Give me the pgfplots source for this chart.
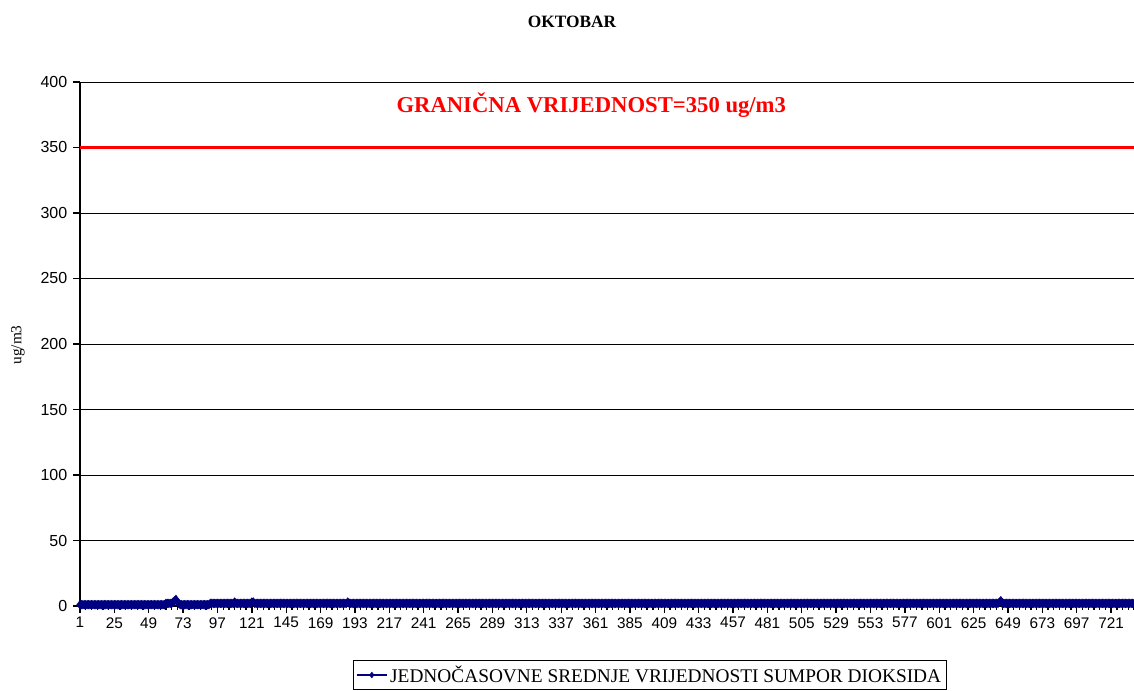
\documentclass[border=0pt]{standalone}
\usepackage{pgfplots}
\pgfplotsset{compat=1.18}
\usepackage{pgfplotstable}
\usepackage{fontspec}
\setmainfont{Liberation Serif}
\newfontfamily\tickfont{Liberation Sans}
\definecolor{navyblue}{RGB}{0,0,128}
\definecolor{limitred}{RGB}{255,0,0}

% hourly SO2 values, October: one line per day, 24 hourly values
\pgfplotstableread[row sep=\\]{
y\\
1\\1\\1\\1\\1\\1\\1\\1\\1\\1\\1\\1\\1\\1\\1\\1\\1\\1\\1\\1\\1\\1\\1\\1\\
1\\1\\1\\1\\1\\1\\1\\1\\1\\1\\1\\1\\1\\1\\1\\1\\1\\1\\1\\1\\1\\1\\1\\1\\
1\\1\\1\\1\\1\\1\\1\\1\\1\\1\\1\\1\\2\\2\\2\\2\\2\\3\\4\\5\\3\\2\\1\\1\\
1\\1\\1\\1\\1\\1\\1\\1\\1\\1\\1\\1\\1\\1\\1\\1\\1\\1\\1\\2\\2\\2\\2\\2\\
2\\2\\2\\2\\2\\2\\2\\2\\2\\2\\2\\2\\3\\2\\2\\2\\2\\2\\2\\2\\2\\2\\2\\2\\
3\\3\\2\\2\\2\\2\\2\\2\\2\\2\\2\\2\\2\\2\\2\\2\\2\\2\\2\\2\\2\\2\\2\\2\\
2\\2\\2\\2\\2\\2\\2\\2\\2\\2\\2\\2\\2\\2\\2\\2\\2\\2\\2\\2\\2\\2\\2\\2\\
2\\2\\2\\2\\2\\2\\2\\2\\2\\2\\2\\2\\2\\2\\2\\2\\2\\2\\2\\3\\2\\2\\2\\2\\
2\\2\\2\\2\\2\\2\\2\\2\\2\\2\\2\\2\\2\\2\\2\\2\\2\\2\\2\\2\\2\\2\\2\\2\\
2\\2\\2\\2\\2\\2\\2\\2\\2\\2\\2\\2\\2\\2\\2\\2\\2\\2\\2\\2\\2\\2\\2\\2\\
2\\2\\2\\2\\2\\2\\2\\2\\2\\2\\2\\2\\2\\2\\2\\2\\2\\2\\2\\2\\2\\2\\2\\2\\
2\\2\\2\\2\\2\\2\\2\\2\\2\\2\\2\\2\\2\\2\\2\\2\\2\\2\\2\\2\\2\\2\\2\\2\\
2\\2\\2\\2\\2\\2\\2\\2\\2\\2\\2\\2\\2\\2\\2\\2\\2\\2\\2\\2\\2\\2\\2\\2\\
2\\2\\2\\2\\2\\2\\2\\2\\2\\2\\2\\2\\2\\2\\2\\2\\2\\2\\2\\2\\2\\2\\2\\2\\
2\\2\\2\\2\\2\\2\\2\\2\\2\\2\\2\\2\\2\\2\\2\\2\\2\\2\\2\\2\\2\\2\\2\\2\\
2\\2\\2\\2\\2\\2\\2\\2\\2\\2\\2\\2\\2\\2\\2\\2\\2\\2\\2\\2\\2\\2\\2\\2\\
2\\2\\2\\2\\2\\2\\2\\2\\2\\2\\2\\2\\2\\2\\2\\2\\2\\2\\2\\2\\2\\2\\2\\2\\
2\\2\\2\\2\\2\\2\\2\\2\\2\\2\\2\\2\\2\\2\\2\\2\\2\\2\\2\\2\\2\\2\\2\\2\\
2\\2\\2\\2\\2\\2\\2\\2\\2\\2\\2\\2\\2\\2\\2\\2\\2\\2\\2\\2\\2\\2\\2\\2\\
2\\2\\2\\2\\2\\2\\2\\2\\2\\2\\2\\2\\2\\2\\2\\2\\2\\2\\2\\2\\2\\2\\2\\2\\
2\\2\\2\\2\\2\\2\\2\\2\\2\\2\\2\\2\\2\\2\\2\\2\\2\\2\\2\\2\\2\\2\\2\\2\\
2\\2\\2\\2\\2\\2\\2\\2\\2\\2\\2\\2\\2\\2\\2\\2\\2\\2\\2\\2\\2\\2\\2\\2\\
2\\2\\2\\2\\2\\2\\2\\2\\2\\2\\2\\2\\2\\2\\2\\2\\2\\2\\2\\2\\2\\2\\2\\2\\
2\\2\\2\\2\\2\\2\\2\\2\\2\\2\\2\\2\\2\\2\\2\\2\\2\\2\\2\\2\\2\\2\\2\\2\\
2\\2\\2\\2\\2\\2\\2\\2\\2\\2\\2\\2\\2\\2\\2\\2\\2\\2\\2\\2\\2\\2\\2\\2\\
2\\2\\2\\2\\2\\2\\2\\2\\2\\2\\2\\2\\2\\2\\2\\2\\2\\2\\2\\2\\2\\2\\2\\2\\
2\\2\\2\\2\\2\\2\\2\\2\\2\\2\\2\\2\\2\\2\\2\\2\\2\\2\\3\\4\\2\\2\\2\\2\\
2\\2\\2\\2\\2\\2\\2\\2\\2\\2\\2\\2\\2\\2\\2\\2\\2\\2\\2\\2\\2\\2\\2\\2\\
2\\2\\2\\2\\2\\2\\2\\2\\2\\2\\2\\2\\2\\2\\2\\2\\2\\2\\2\\2\\2\\2\\2\\2\\
2\\2\\2\\2\\2\\2\\2\\2\\2\\2\\2\\2\\2\\2\\2\\2\\2\\2\\2\\2\\2\\2\\2\\2\\
2\\2\\2\\2\\2\\2\\2\\2\\2\\2\\2\\2\\2\\2\\2\\2\\2\\2\\2\\2\\2\\2\\2\\2\\
}\sotwo

\begin{document}
\begin{tikzpicture}
\begin{axis}[
  at={(60pt,63.75pt)}, anchor=south west,
  scale only axis, width=790.5pt, height=393pt,
  xmin=1, xmax=737, ymin=0, ymax=400,
  axis x line*=bottom, axis y line*=left,
  axis line style={black, line width=1.6pt},
  x axis line style={line width=0.8pt},
  ytick={0,50,...,400},
  xtick={1,25,...,721},
  minor xtick={1,5,...,737},
  tick align=outside,
  major tick length=5pt, minor tick length=3pt,
  tick style={black, line width=1pt},
  ymajorgrids, major grid style={black, line width=0.5pt},
  tick label style={font=\tickfont\fontsize{11.5}{13}\selectfont},
  yticklabel style={font=\tickfont\fontsize{12}{14}\selectfont, xshift=-1pt},
  /pgf/number format/assume math mode=true,
  clip=true,
  legend style={at={(0.5408,-0.103)}, anchor=north, draw=black, line width=0.6pt,
     font=\fontsize{14.5}{16}\selectfont, inner sep=2pt, legend cell align=left},
  legend image code/.code={%
    \draw[mark repeat=2, mark phase=2, line width=0.8pt, mark size=2.2pt]
      plot coordinates {(0cm,0cm) (0.4cm,0cm) (0.8cm,0cm)};},
]
\addplot[limitred, line width=2.4pt, forget plot] coordinates {(1,350) (737,350)};
\addplot[navyblue, line width=1.2pt, mark=diamond*, mark size=3.3pt,
  mark options={fill=navyblue, draw=navyblue, line width=0.3pt}]
  table[x expr=\coordindex+1, y=y] {\sotwo};
\addlegendentry{JEDNOČASOVNE SREDNJE VRIJEDNOSTI SUMPOR DIOKSIDA}
\node[text=limitred, font=\bfseries\fontsize{17}{19}\selectfont] at (axis cs:358,382.4) {GRANIČNA VRIJEDNOST=350 ug/m3};
\end{axis}
\node[font=\bfseries\fontsize{13}{15}\selectfont] at (429pt,501.75pt) {OKTOBAR};
\node[rotate=90, font=\fontsize{11.5}{13}\selectfont] at (13.5pt,259.5pt) {ug/m3};
\pgfresetboundingbox
\path (0,0) rectangle (850.5pt,518.25pt);
\end{tikzpicture}
\end{document}
